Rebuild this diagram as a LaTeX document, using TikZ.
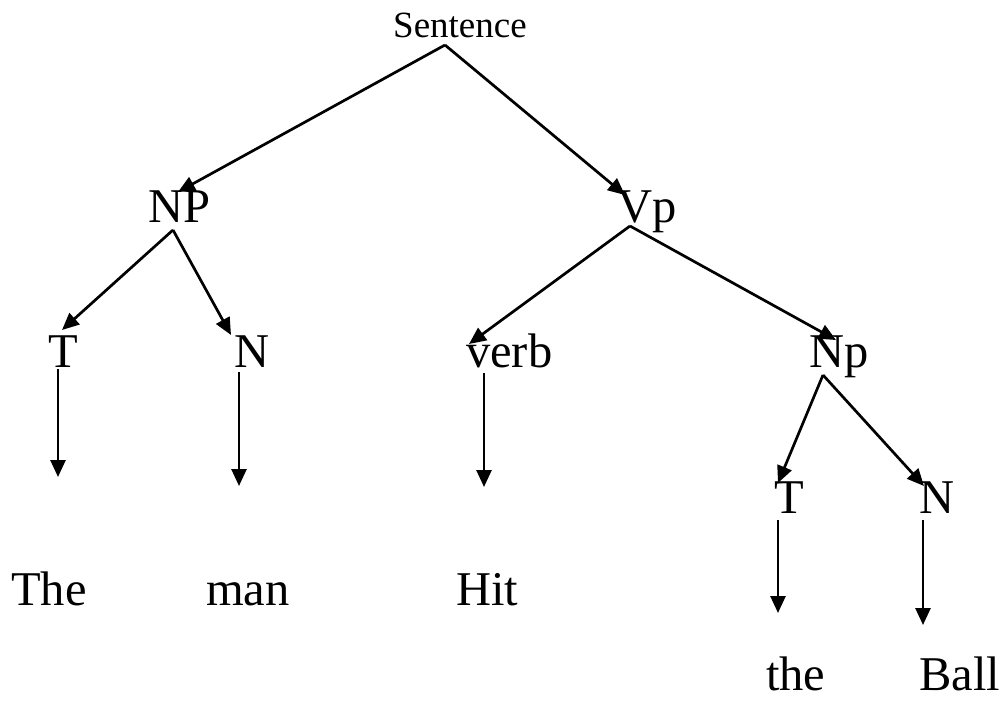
\documentclass[tikz,border=0pt]{standalone}
\usepackage{fontspec}
\setmainfont{Liberation Serif}
\usetikzlibrary{arrows.meta}
\begin{document}
\begin{tikzpicture}[x=1pt,y=-1pt,
  word/.style={anchor=base west,inner sep=0pt,font=\fontsize{48.5}{56}\selectfont},
  top/.style={anchor=base west,inner sep=0pt,font=\fontsize{37}{42}\selectfont},
  edge/.style={line width=2.7pt,-{Triangle[length=17pt,width=15pt]}}]
\useasboundingbox (0,0) rectangle (1007,702);
% texts
\node[top] (s) at (393,37) {Sentence};
\node[word] (np) at (148,222) {NP};
\node[word] (vp) at (617,222) {Vp};
\node[word] (t1) at (48,367) {T};
\node[word] (n1) at (234,367) {N};
\node[word] (verb) at (466,367) {verb};
\node[word] (np2) at (809,367) {Np};
\node[word] (t2) at (774,513) {T};
\node[word] (n2) at (919,513) {N};
\node[word] (the) at (11,605) {The};
\node[word] (man) at (206,605) {man};
\node[word] (hit) at (456,605) {Hit};
\node[word] (the2) at (766,690) {the};
\node[word] (ball) at (919,690) {Ball};
% connector points
\coordinate (sA) at (445,45);
\coordinate (npTip) at (178,192);
\coordinate (vpTip) at (625,195);
\coordinate (npA) at (173,230);
\coordinate (t1Tip) at (62,330);
\coordinate (n1Tip) at (231,335);
\coordinate (vpA) at (630,226);
\coordinate (verbTip) at (469,344);
\coordinate (np2Tip) at (836,340);
\coordinate (np2A) at (823,375);
\coordinate (t2Tip) at (778,483);
\coordinate (n2Tip) at (924,486);
\coordinate (t1B) at (58,369);
\coordinate (t1E) at (58,477);
\coordinate (n1B) at (239,372);
\coordinate (n1E) at (239,486);
\coordinate (verbB) at (484,373);
\coordinate (verbE) at (484,487);
\coordinate (t2B) at (778,520);
\coordinate (t2E) at (778,613);
\coordinate (n2B) at (923,520);
\coordinate (n2E) at (923,625);
% connectors
\draw[edge] (sA) -- (npTip);
\draw[edge] (sA) -- (vpTip);
\draw[edge] (npA) -- (t1Tip);
\draw[edge] (npA) -- (n1Tip);
\draw[edge] (vpA) -- (verbTip);
\draw[edge] (vpA) -- (np2Tip);
\draw[edge] (np2A) -- (t2Tip);
\draw[edge] (np2A) -- (n2Tip);
\draw[edge] (t1B) -- (t1E);
\draw[edge] (n1B) -- (n1E);
\draw[edge] (verbB) -- (verbE);
\draw[edge] (t2B) -- (t2E);
\draw[edge] (n2B) -- (n2E);
\end{tikzpicture}
\end{document}
